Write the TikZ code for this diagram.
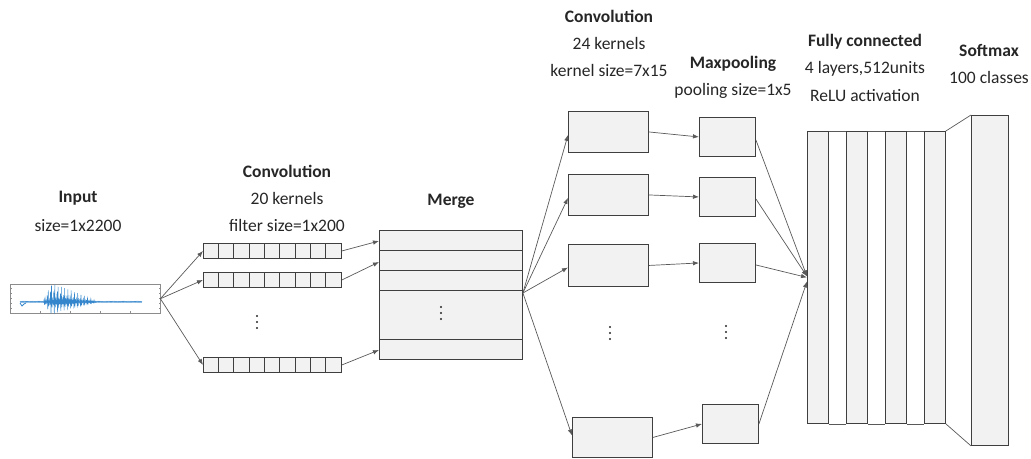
\documentclass[tikz,border=0pt]{standalone}
\usepackage{fontspec}
\setmainfont{Carlito}
\usetikzlibrary{arrows.meta,calc}
\definecolor{boxfill}{HTML}{F2F2F2}
\definecolor{boxline}{HTML}{3F3F3F}
\definecolor{linkc}{HTML}{595959}
\definecolor{txt}{HTML}{262626}
\definecolor{wave}{HTML}{3385CC}
\definecolor{axisc}{HTML}{8C8C8C}
\newcommand{\vdotsat}[1]{%
  \foreach \dd in {-6,0,6} \fill[txt] ($(#1)+(0,\dd)$) circle (1.2pt);}
\begin{document}
\begin{tikzpicture}[x=1pt,y=-1pt,
  box/.style={draw=boxline, fill=boxfill, line width=0.9pt, inner sep=0pt, anchor=north west},
  link/.style={draw=linkc, line width=0.7pt, -{Latex[length=6pt,width=4.5pt]}},
  plain/.style={draw=linkc, line width=0.7pt},
  title/.style={font=\bfseries\fontsize{17.5}{19}\selectfont, text=txt, inner sep=0pt},
  note/.style={font=\fontsize{17.5}{19}\selectfont, text=txt, inner sep=0pt}]
\useasboundingbox (0,0) rectangle (1031,458);

% ---------- input signal ----------
\node[title] (tin) at (78,198) {Input};
\node[note] (sin) at (78,226) {size=1x2200};
\node[draw=axisc, line width=0.4pt, minimum width=150pt, minimum height=29pt, inner sep=0pt, anchor=north west] (sig) at (10,284) {};
\foreach \t in {40,70,100,130} \draw[axisc, line width=0.4pt] (\t,313) -- (\t,311);
\foreach \t in {288,293,298,303,308} {
  \draw[axisc, line width=0.3pt] (10,\t) -- (11.5,\t);
  \draw[axisc, line width=0.3pt] (160,\t) -- (158.5,\t);
}
\draw[wave, line width=0.4pt] plot[domain=20:142, samples=800]
  (\x, {302 - (0.6 + 16*max(0,min((\x-43)/8,1-(\x-52)/45))*(0.15+0.85*abs(sin(\x*54.5))^3))*sin(mod(\x*33,36)*10)*(1+0.25*sin(mod(\x*33,36)*10))});
\draw[wave, line width=0.8pt] (20,303) -- (22,306) -- (24,304) -- (26,303);
\coordinate (fin) at (sig.east);

% ---------- first convolution ----------
\node[title] (tc1) at (287,171) {Convolution};
\node[note] (kc1) at (287,198) {20 kernels};
\node[note] (fc1t) at (287,225) {filter size=1x200};
\foreach \n/\y in {r1/243,r2/272,r3/357} {
  \node[box, minimum width=138pt, minimum height=15pt] (\n) at (203,\y) {};
  \foreach \k in {1,...,8} \draw[boxline, line width=0.9pt] (203+\k*15.333,\y) -- ++(0,15);
}
\coordinate (d1) at (257,322);
\vdotsat{d1}
\draw[link] (fin) -- (r1.west);
\draw[link] (fin) -- (r2.west);
\draw[link] (fin) -- (r3.west);

% ---------- merge ----------
\node[title] (tm) at (451,201) {Merge};
\node[box, minimum width=143pt, minimum height=129pt] (merge) at (379,230) {};
\foreach \y in {250,270,290,339} \draw[boxline, line width=0.9pt] (379,\y) -- (522,\y);
\coordinate (d2) at (441,313);
\vdotsat{d2}
\draw[link] (r1.east) -- ([yshift=-11pt]merge.north west);
\draw[link] (r2.east) -- ([yshift=-32pt]merge.north west);
\draw[link] (r3.east) -- ([yshift=-120pt]merge.north west);
\coordinate (mout) at ([yshift=-63pt]merge.north east);

% ---------- second convolution ----------
\node[title] (tc2) at (609,16) {Convolution};
\node[note] (kc2) at (609,43) {24 kernels};
\node[note] (sc2) at (609,70) {kernel size=7x15};
\node[box, minimum width=80pt, minimum height=41pt] (c2a) at (568,111) {};
\node[box, minimum width=80pt, minimum height=41pt] (c2b) at (568,174) {};
\node[box, minimum width=80pt, minimum height=42pt] (c2c) at (568,244) {};
\node[box, minimum width=80pt, minimum height=40pt] (c2d) at (572,417) {};
\coordinate (d3) at (610,333);
\vdotsat{d3}
\draw[link] (mout) -- ([yshift=-3pt]c2a.west);
\draw[link] (mout) -- ([yshift=-3pt]c2b.west);
\draw[link] (mout) -- ([yshift=-2pt]c2c.west);
\draw[link] (mout) -- ([yshift=2pt]c2d.west);

% ---------- max pooling ----------
\node[title] (tmp) at (733,64) {Maxpooling};
\node[note] (smp) at (733,91) {pooling size=1x5};
\node[box, minimum width=56pt, minimum height=39pt] (mp1) at (699,117) {};
\node[box, minimum width=56pt, minimum height=39pt] (mp2) at (699,177) {};
\node[box, minimum width=56pt, minimum height=39pt] (mp3) at (699,243) {};
\node[box, minimum width=56pt, minimum height=39pt] (mp4) at (702,404) {};
\coordinate (d4) at (726,332);
\vdotsat{d4}
\draw[link] (c2a.east) -- (mp1.west);
\draw[link] (c2b.east) -- (mp2.west);
\draw[link] (c2c.east) -- (mp3.west);
\draw[link] (c2d.east) -- (mp4.west);

% ---------- fully connected ----------
\node[title] (tfc) at (865,42) {Fully connected};
\node[note] (lfc) at (865,69) {4 layers,512units};
\node[note] (afc) at (865,96) {ReLU activation};
\foreach \n/\x in {fa/807,fb/846,fc/885,fd/924}
  \node[box, minimum width=21pt, minimum height=292pt] (\n) at (\x,131) {};
\draw[plain] (fa.north east) -- (fb.north west) (fb.north east) -- (fc.north west) (fc.north east) -- (fd.north west);
\draw[plain] (fa.south east) -- (fb.south west) (fb.south east) -- (fc.south west) (fc.south east) -- (fd.south west);
\coordinate (fin2) at (fa.west);
\draw[link] ([yshift=-3pt]mp1.east) -- ([yshift=1pt]fin2);
\draw[link] ([yshift=-2pt]mp2.east) -- ([yshift=1pt]fin2);
\draw[link] ([yshift=-2pt]mp3.east) -- (fin2);
\draw[link] (mp4.east) -- ([yshift=-4pt]fin2);

% ---------- softmax ----------
\node[title] (tsm) at (989,50) {Softmax};
\node[note] (csm) at (989,77) {100 classes};
\node[box, minimum width=37pt, minimum height=330pt] (sm) at (971,115) {};
\draw[plain] (fd.north east) -- (sm.north west);
\draw[plain] (fd.south east) -- (sm.south west);
\end{tikzpicture}
\end{document}
